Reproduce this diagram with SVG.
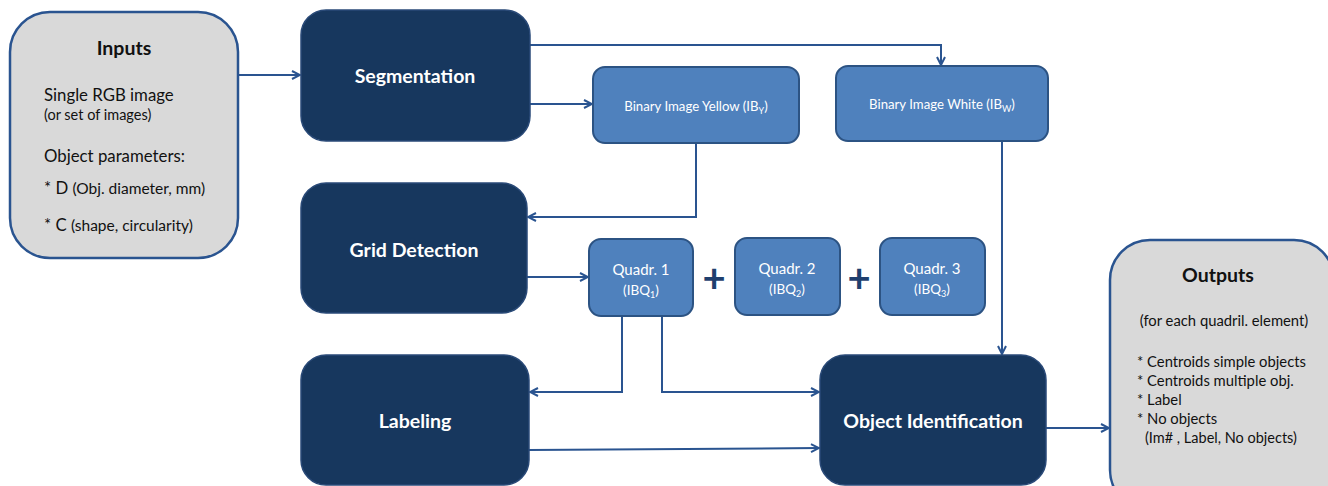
<svg xmlns="http://www.w3.org/2000/svg" width="1328" height="486" viewBox="0 0 1328 486">
<defs>
<marker id="arr" viewBox="0 0 10 10" refX="9" refY="5" markerWidth="10" markerHeight="10" markerUnits="userSpaceOnUse" orient="auto">
<path d="M1,1 L9,5 L1,9" fill="none" stroke="#2a5490" stroke-width="2"/>
</marker>
<style>
.gray{fill:#d9d9d9;stroke:#2a5490;stroke-width:2.5}
.dark{fill:#17375e;stroke:#2a4a78;stroke-width:1.5}
.mid{fill:#4f81bd;stroke:#2c5383;stroke-width:2}
.conn{fill:none;stroke:#2a5490;stroke-width:2;marker-end:url(#arr)}
text{font-family:Lato,"Open Sans","Liberation Sans",sans-serif}
.big{font-size:19.5px;font-weight:bold;fill:#ffffff;text-anchor:middle}
.hd{font-size:19.5px;font-weight:bold;fill:#111111;text-anchor:middle}
.b15{font-size:16.8px;fill:#111111}
.s12{font-size:14.5px;fill:#111111}
.s13{font-size:15.5px;fill:#111111}
.o15{font-size:14.8px;fill:#111111}
.w11{font-size:13.2px;fill:#ffffff;text-anchor:middle}
.w12{font-size:15px;fill:#ffffff;text-anchor:middle}
.wq{font-size:13.5px;fill:#ffffff;text-anchor:middle}
.plus{font-size:40px;font-weight:bold;fill:#1f3f6e;text-anchor:middle}
</style>
</defs>
<rect width="1328" height="486" fill="#ffffff"/>
<g id="connectors">
<path class="conn" d="M238,75 H300"/>
<path class="conn" d="M530,45 H941 V65"/>
<path class="conn" d="M530,104 H592"/>
<path class="conn" d="M696,143 V217 H528"/>
<path class="conn" d="M527,277 H588"/>
<path class="conn" d="M622,316 V392 H530"/>
<path class="conn" d="M662,316 V392 H819"/>
<path class="conn" d="M529,450 L819,448"/>
<path class="conn" d="M1002,141 V354"/>
<path class="conn" d="M1046,428 H1109"/>
</g>
<g id="inputs">
<rect class="gray" x="10" y="12" width="228" height="246" rx="40"/>
<text class="hd" x="124" y="55">Inputs</text>
<text class="b15" x="44" y="101">Single RGB image</text>
<text class="s12" x="44" y="120">(or set of images)</text>
<text class="b15" x="44" y="162">Object parameters:</text>
<text x="44" y="194"><tspan class="b15">* D </tspan><tspan class="s13">(Obj. diameter, mm)</tspan></text>
<text x="44" y="231"><tspan class="b15">* C </tspan><tspan class="s13">(shape, circularity)</tspan></text>
</g>
<g id="segmentation">
<rect class="dark" x="301" y="10" width="229" height="131" rx="25"/>
<text class="big" x="415" y="83">Segmentation</text>
</g>
<g id="grid-detection">
<rect class="dark" x="301" y="183" width="226" height="130" rx="25"/>
<text class="big" x="414" y="257">Grid Detection</text>
</g>
<g id="labeling">
<rect class="dark" x="301" y="355" width="228" height="130" rx="25"/>
<text class="big" x="415" y="428">Labeling</text>
</g>
<g id="object-identification">
<rect class="dark" x="820" y="355" width="226" height="130" rx="25"/>
<text class="big" x="933" y="428">Object Identification</text>
</g>
<g id="binary-yellow">
<rect class="mid" x="593" y="67" width="206" height="76" rx="12"/>
<text class="w11" x="696" y="111">Binary Image Yellow (IB<tspan font-size="9" dy="3">Y</tspan><tspan dy="-3">)</tspan></text>
</g>
<g id="binary-white">
<rect class="mid" x="836" y="66" width="212" height="75" rx="12"/>
<text class="w11" x="942" y="109">Binary Image White (IB<tspan font-size="9" dy="3">W</tspan><tspan dy="-3">)</tspan></text>
</g>
<g id="quadr1">
<rect class="mid" x="589" y="239" width="104" height="77" rx="12"/>
<text class="w12" x="641" y="275">Quadr. 1</text>
<text class="wq" x="641" y="295">(IBQ<tspan font-size="9" dy="3">1</tspan><tspan dy="-3">)</tspan></text>
</g>
<g id="plus1"><text class="plus" x="714" y="292">+</text></g>
<g id="quadr2">
<rect class="mid" x="735" y="238" width="105" height="77" rx="12"/>
<text class="w12" x="787" y="274">Quadr. 2</text>
<text class="wq" x="787" y="294">(IBQ<tspan font-size="9" dy="3">2</tspan><tspan dy="-3">)</tspan></text>
</g>
<g id="plus2"><text class="plus" x="859" y="292">+</text></g>
<g id="quadr3">
<rect class="mid" x="880" y="238" width="105" height="77" rx="12"/>
<text class="w12" x="932" y="274">Quadr. 3</text>
<text class="wq" x="932" y="294">(IBQ<tspan font-size="9" dy="3">3</tspan><tspan dy="-3">)</tspan></text>
</g>
<g id="outputs">
<rect class="gray" x="1110" y="240" width="224" height="270" rx="40"/>
<text class="hd" x="1218" y="282">Outputs</text>
<text class="o15" x="1224" y="326" text-anchor="middle">(for each quadril. element)</text>
<text class="o15" x="1137" y="367">* Centroids simple objects</text>
<text class="o15" x="1137" y="386">* Centroids multiple obj.</text>
<text class="o15" x="1137" y="405">* Label</text>
<text class="o15" x="1137" y="424">* No objects</text>
<text class="s12" x="1145" y="443">(Im# , Label, No objects)</text>
</g>
</svg>
